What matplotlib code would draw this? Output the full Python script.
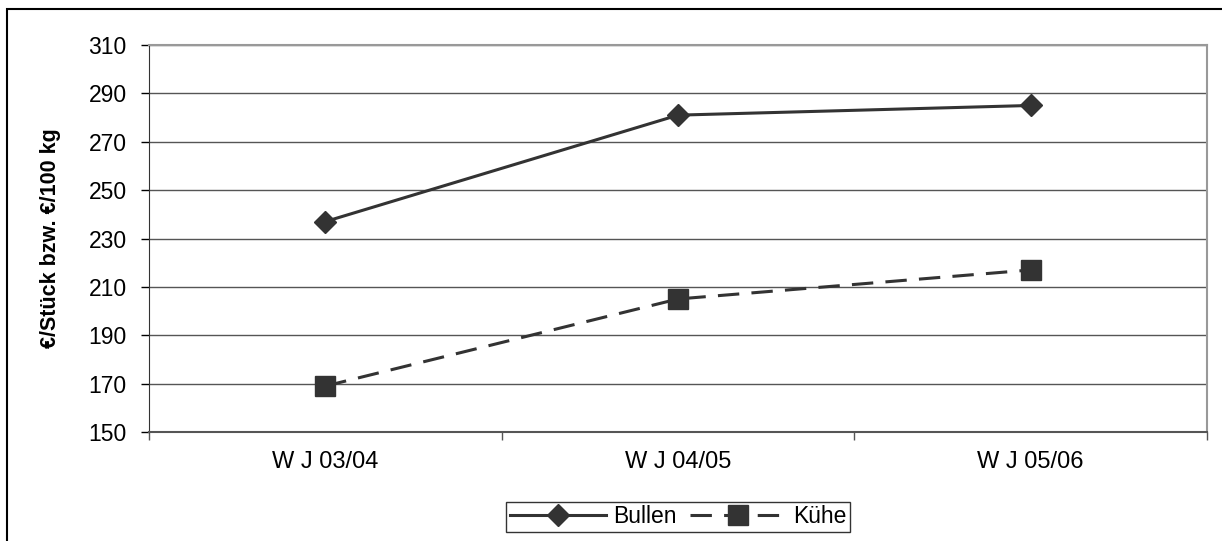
import matplotlib.pyplot as plt
from matplotlib.patches import Rectangle

plt.rcParams['font.family'] = ['Liberation Sans', 'DejaVu Sans']

# Daten
jahre = ['W J 03/04', 'W J 04/05', 'W J 05/06']
bullen = [237, 281, 285]
kuehe = [169, 205, 217]
y_ticks = [150, 170, 190, 210, 230, 250, 270, 290, 310]

line_color = '#333333'

fig = plt.figure(figsize=(12.22, 5.41), dpi=100)
ax = fig.add_axes([149 / 1222, 109 / 541, 1058 / 1222, 387 / 541])

x = list(range(len(jahre)))
ax.plot(x, bullen, color=line_color, linewidth=2.2, marker='D', markersize=11,
        label='Bullen')
ax.plot(x, kuehe, color=line_color, linewidth=2.2, linestyle=(0, (7, 4)),
        marker='s', markersize=14, label='Kühe')

ax.set_xlim(-0.5, len(jahre) - 0.5)
ax.set_ylim(150, 310)
ax.set_yticks(y_ticks)
ax.tick_params(axis='y', labelsize=16.5, length=6, direction='out', width=1,
               pad=10)

# Kategorien mittig, Striche an den Grenzen
ax.set_xticks([i - 0.5 for i in range(len(jahre) + 1)])
ax.set_xticklabels([])
ax.set_xticks(x, minor=True)
ax.set_xticklabels(jahre, minor=True, fontsize=17)
ax.tick_params(axis='x', which='major', length=6, direction='out', width=1,
               color='#555555')
ax.tick_params(axis='x', which='minor', length=0, pad=14)

ax.grid(axis='y', color='#555555', linewidth=1)
ax.set_axisbelow(True)
for s in ['top', 'right']:
    ax.spines[s].set_color('#999999')
    ax.spines[s].set_linewidth(1.5)
ax.spines['left'].set_color('#333333')
ax.spines['bottom'].set_color('#555555')
ax.spines['bottom'].set_linewidth(1.5)

ax.set_ylabel('€/Stück bzw. €/100 kg', fontsize=15.5, fontweight='bold',
              labelpad=20)

leg = ax.legend(loc='upper center', bbox_to_anchor=(0.5, -0.18), ncol=2,
                fontsize=16.5, frameon=True, fancybox=False, edgecolor='black',
                handlelength=4.2, columnspacing=0.6, borderpad=0.15,
                handletextpad=0.3, borderaxespad=0)
leg.get_frame().set_linewidth(1)

# Rahmen um das Diagramm (rechts und unten abgeschnitten)
fig.patches.append(Rectangle((7 / 1222, -0.1), 1.2, 1.1 - 8.5 / 541,
                             transform=fig.transFigure, fill=False,
                             edgecolor='black', linewidth=1.5))

fig.savefig('out.png', dpi=100)
